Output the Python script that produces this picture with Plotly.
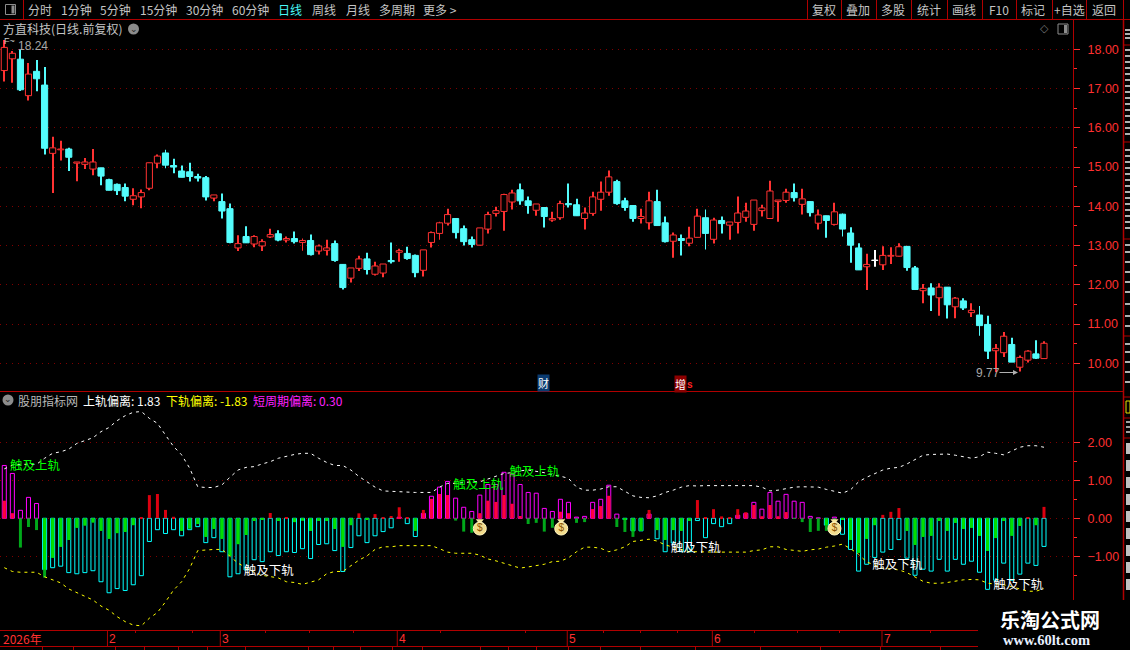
import plotly.graph_objects as go

W, H = 1130, 650
CJK = "Noto Sans CJK SC"
NUM = "Liberation Sans"

# ---------- candles ----------
opens = [17.46,17.76,17.75,16.82,17.44,17.09,15.35,15.44,15.46,15.10,15.07,14.95,14.98,14.68,14.56,14.48,14.18,14.24,14.46,15.10,
 15.36,15.04,14.90,14.88,14.76,14.73,14.21,14.12,13.94,12.94,13.23,13.04,12.99,13.22,13.30,13.14,13.18,13.08,13.13,12.86,
 12.88,13.05,12.52,12.17,12.42,12.66,12.27,12.30,12.62,12.83,12.80,12.75,12.37,13.08,13.31,13.57,13.69,13.43,13.15,13.01,
 13.42,13.82,13.87,14.11,14.42,14.14,13.90,13.97,13.65,13.71,14.07,14.04,13.69,13.82,14.18,14.36,14.63,14.14,14.02,13.69,
 13.58,14.12,13.58,13.11,13.18,13.06,13.21,13.71,13.16,13.64,13.52,13.59,13.72,13.54,13.89,13.69,14.12,14.15,14.35,14.05,
 14.12,13.57,13.76,13.54,13.80,13.32,12.94,12.46,12.63,12.51,12.73,12.73,12.98,12.43,11.85,11.92,11.67,11.94,11.44,11.59,
 11.29,11.23,10.99,10.32,10.27,10.48,9.90,10.08,10.24,10.12]
closes = [18.05,17.90,16.97,17.37,17.25,15.48,15.49,15.46,15.25,15.13,15.13,15.13,14.77,14.41,14.40,14.26,14.27,14.35,15.11,15.28,
 15.05,15.00,14.74,14.76,14.72,14.24,14.29,13.88,13.08,13.05,13.07,13.23,13.10,13.28,13.14,13.18,13.10,13.13,12.77,12.99,
 12.94,12.62,11.93,12.43,12.66,12.39,12.48,12.53,12.59,12.87,12.67,12.31,12.89,13.33,13.58,13.79,13.33,13.10,13.03,13.45,
 13.79,13.89,14.30,14.34,14.14,14.02,14.06,13.74,13.69,14.07,14.04,13.76,13.83,14.24,14.36,14.75,14.07,13.97,13.69,13.74,
 14.14,13.51,13.10,13.27,13.13,13.19,13.75,13.31,13.65,13.56,13.60,13.83,13.88,14.16,13.96,14.39,14.16,14.36,14.22,14.19,
 13.84,13.78,13.64,13.86,13.42,13.01,12.38,12.52,12.62,12.75,12.75,12.97,12.44,11.88,11.91,11.74,11.94,11.49,11.66,11.41,
 11.35,10.96,10.31,10.38,10.69,10.03,10.15,10.31,10.13,10.51]
highs = [18.24,17.96,18.00,17.65,17.73,17.55,15.77,15.67,15.49,15.13,15.23,15.46,14.98,14.70,14.58,14.58,14.46,14.43,15.11,15.32,
 15.44,15.21,15.04,15.11,14.83,14.77,14.29,14.33,14.07,13.26,13.49,13.26,13.16,13.43,13.39,13.23,13.36,13.18,13.28,13.03,
 13.15,13.13,12.52,12.43,12.74,12.82,12.59,12.53,13.08,12.92,12.97,12.77,12.89,13.36,13.61,13.94,13.69,13.51,13.23,13.45,
 13.86,13.99,14.32,14.42,14.58,14.25,14.06,13.97,13.86,14.14,14.58,14.19,13.97,14.37,14.63,14.91,14.68,14.22,14.02,13.94,
 14.37,14.42,13.74,13.33,13.28,13.48,13.94,13.92,13.71,13.74,13.60,14.25,14.09,14.16,14.04,14.65,14.16,14.45,14.58,14.45,
 14.12,13.92,13.76,14.09,13.82,13.47,13.06,12.79,12.89,12.98,12.96,13.06,12.98,12.48,12.02,12.04,12.04,11.94,11.69,11.66,
 11.53,11.46,11.21,10.49,10.80,10.65,10.20,10.33,10.59,10.56]
lows = [17.18,17.15,16.94,16.70,16.93,15.32,14.34,15.17,14.90,14.64,14.95,14.79,14.54,14.41,14.29,14.13,14.03,13.95,14.41,14.97,
 14.97,14.84,14.74,14.63,14.63,14.15,14.13,13.69,13.06,12.86,13.07,12.96,12.86,13.19,13.11,13.08,13.05,12.87,12.75,12.77,
 12.75,12.59,11.88,12.06,12.35,12.26,12.24,12.19,12.54,12.59,12.64,12.19,12.21,12.95,13.15,13.51,13.18,13.00,12.95,13.01,
 13.31,13.74,13.38,13.92,14.04,13.81,13.76,13.46,13.61,13.66,13.97,13.76,13.41,13.76,13.89,14.27,14.04,13.89,13.61,13.56,
 13.41,13.51,13.08,12.69,12.75,12.98,13.21,12.90,13.05,13.31,13.15,13.31,13.61,13.38,13.74,13.69,13.61,14.09,14.12,13.79,
 13.74,13.41,13.20,13.51,13.23,12.56,12.38,11.87,12.46,12.38,12.53,12.72,12.36,11.88,11.53,11.33,11.21,11.14,11.15,11.36,
 11.18,10.70,10.11,9.77,10.16,10.03,9.79,10.02,10.11,10.12]
white_candles = [108]

# ---------- indicator ----------
deviation = [1.39,1.18,0.21,0.55,0.39,-1.35,-1.30,-1.26,-1.43,-1.46,-1.43,-1.38,-1.67,-1.96,-1.85,-1.90,-1.75,-1.51,-0.61,-0.30,
 -0.40,-0.30,-0.46,-0.30,-0.22,-0.64,-0.51,-0.88,-1.54,-1.46,-1.36,-1.09,-1.14,-0.88,-0.98,-0.88,-0.90,-0.80,-1.06,-0.69,
 -0.67,-0.85,-1.40,-0.77,-0.46,-0.64,-0.46,-0.35,-0.25,0.03,-0.14,-0.48,0.13,0.58,0.82,0.97,0.53,0.29,0.18,0.61,
 0.89,0.89,1.21,1.16,0.89,0.68,0.66,0.26,0.18,0.50,0.42,0.03,0.05,0.42,0.50,0.87,0.11,-0.03,-0.33,-0.33,
 0.11,-0.54,-0.88,-0.65,-0.88,-0.88,-0.06,-0.51,-0.14,-0.22,-0.14,0.08,0.13,0.42,0.24,0.68,0.45,0.63,0.45,0.42,
 0.05,0.01,-0.18,0.03,-0.42,-0.82,-1.39,-1.21,-1.03,-0.89,-0.82,-0.56,-1.05,-1.50,-1.34,-1.39,-1.08,-1.39,-1.08,-1.21,
 -1.13,-1.42,-1.87,-1.63,-1.18,-1.63,-1.47,-1.18,-1.24,-0.74]
short_term = [0.46,0.13,-0.77,-0.23,-0.31,-1.56,-1.04,-0.75,-0.57,-0.25,-0.19,-0.11,-0.33,-0.54,-0.39,-0.36,-0.18,0.01,0.61,0.64,
 0.22,0.04,-0.33,-0.27,-0.15,-0.49,-0.28,-0.54,-0.99,-0.68,-0.44,-0.07,-0.04,0.14,-0.07,0.01,-0.10,-0.06,-0.33,-0.07,
 -0.07,-0.28,-0.75,-0.18,0.13,-0.04,0.11,0.03,0.06,0.29,0.03,-0.33,0.22,0.51,0.64,0.61,-0.06,-0.35,-0.38,0.13,
 0.46,0.43,0.61,0.38,0.06,-0.15,-0.12,-0.35,-0.25,0.17,0.13,-0.12,-0.10,0.24,0.32,0.59,-0.23,-0.36,-0.49,-0.33,
 0.22,-0.31,-0.57,-0.31,-0.33,-0.07,0.48,0.01,0.24,0.05,0.03,0.24,0.16,0.35,0.05,0.35,0.05,0.16,-0.01,-0.10,
 -0.36,-0.33,-0.33,-0.10,-0.03,-0.57,-0.91,-0.54,-0.18,0.09,0.17,0.27,-0.33,-0.70,-0.49,-0.46,-0.07,-0.33,-0.12,-0.28,
 -0.25,-0.46,-0.86,-0.52,-0.07,-0.46,-0.20,0.01,-0.18,0.30]
upper_band = [1.30,1.40,1.42,1.42,1.42,1.58,1.71,1.75,1.82,1.97,2.04,2.12,2.28,2.39,2.57,2.70,2.79,2.81,2.63,2.50,
 2.19,1.89,1.67,1.32,0.83,0.81,0.81,0.88,1.08,1.27,1.34,1.36,1.43,1.49,1.58,1.64,1.68,1.71,1.71,1.58,
 1.47,1.39,1.39,1.27,1.10,0.96,0.82,0.72,0.71,0.69,0.68,0.68,0.68,0.68,0.82,0.92,0.92,0.94,0.96,0.96,
 1.04,1.10,1.18,1.20,1.25,1.27,1.24,1.20,1.14,1.11,1.05,0.82,0.74,0.74,0.77,0.83,0.83,0.72,0.59,0.55,
 0.54,0.59,0.68,0.74,0.82,0.86,0.85,0.86,0.86,0.86,0.86,0.86,0.86,0.86,0.82,0.72,0.74,0.79,0.82,0.83,
 0.82,0.82,0.76,0.72,0.66,0.75,0.96,1.08,1.18,1.27,1.32,1.34,1.43,1.55,1.66,1.68,1.69,1.69,1.66,1.62,
 1.58,1.62,1.74,1.71,1.67,1.77,1.87,1.91,1.91,1.87]
lower_band = [-1.30,-1.40,-1.42,-1.42,-1.42,-1.54,-1.61,-1.70,-1.86,-1.96,-2.07,-2.15,-2.31,-2.42,-2.59,-2.72,-2.81,-2.83,-2.63,-2.48,
 -2.20,-1.89,-1.67,-1.32,-0.85,-0.83,-0.82,-0.82,-0.99,-1.18,-1.30,-1.42,-1.50,-1.54,-1.57,-1.67,-1.69,-1.74,-1.69,-1.62,
 -1.46,-1.40,-1.40,-1.25,-1.10,-0.99,-0.82,-0.75,-0.75,-0.72,-0.72,-0.72,-0.72,-0.72,-0.80,-0.89,-0.92,-0.92,-0.92,-0.97,
 -1.07,-1.12,-1.18,-1.25,-1.31,-1.28,-1.25,-1.21,-1.14,-1.13,-1.04,-0.88,-0.76,-0.76,-0.79,-0.88,-0.83,-0.75,-0.61,-0.57,
 -0.55,-0.60,-0.70,-0.76,-0.83,-0.88,-0.88,-0.89,-0.89,-0.89,-0.89,-0.89,-0.89,-0.85,-0.83,-0.75,-0.75,-0.82,-0.85,-0.87,
 -0.83,-0.81,-0.76,-0.73,-0.68,-0.80,-0.95,-1.15,-1.23,-1.32,-1.33,-1.36,-1.43,-1.55,-1.66,-1.71,-1.71,-1.69,-1.66,-1.62,
 -1.61,-1.62,-1.71,-1.73,-1.75,-1.80,-1.87,-1.92,-1.92,-1.85]

touch_up_x, touch_up_y = [3.8, 58.8, 65.8], [1.34, 0.84, 1.185]
touch_dn_x, touch_dn_y = [32.8, 85.8, 110.8, 125.8], [-1.42, -0.815, -1.26, -1.79]
bag_x, bag_y = [59, 69.1, 103], [-0.27, -0.27, -0.27]

month_x = [12.8, 26.8, 48.76, 69.85, 87.85, 108.9]
month_labels = ["2", "3", "4", "5", "6", "7"]

price_ticks = [10, 11, 12, 13, 14, 15, 16, 17, 18]
price_minor = [10.5, 11.5, 12.5, 13.5, 14.5, 15.5, 16.5, 17.5]
ind_ticks = [-1, 0, 1, 2]
ind_minor = [-1.5, -0.5, 0.5, 1.5]

toolbar_left = [("分时",39.5),("1分钟",76.5),("5分钟",115.5),("15分钟",158),("30分钟",204),("60分钟",250),("日线",290),("周线",323.5),("月线",357.5),("多周期",396.5),("更多 >",440)]
toolbar_right = [("复权",824),("叠加",858),("多股",893),("统计",929),("画线",964),("F10",999),("标记",1033),("+自选",1069),("返回",1104)]
toolbar_seps = [807, 841, 876, 911, 947, 982, 1016, 1052, 1086, 1123]

RED_LINE = "#b00000"
GRID = "#800000"
TICK = "#ff3030"
CYAN = "#54FCFC"

x = list(range(len(opens)))
is_up = [c >= o for o, c in zip(opens, closes)]
wick_col = ["#ffffff" if i in white_candles else ("#ff3232" if is_up[i] else CYAN) for i in x]
fill_col = ["#ffffff" if i in white_candles else ("#000000" if is_up[i] else CYAN) for i in x]

fig = go.Figure()
fig.add_trace(go.Bar(x=x, y=[h - l for h, l in zip(highs, lows)], base=lows, width=0.12,
                     marker=dict(color=wick_col, line=dict(width=0)), xaxis="x", yaxis="y", hoverinfo="skip"))
fig.add_trace(go.Bar(x=x, y=[abs(c - o) for o, c in zip(opens, closes)], base=[min(o, c) for o, c in zip(opens, closes)],
                     width=0.76, marker=dict(color=fill_col, line=dict(width=1, color=wick_col)),
                     xaxis="x", yaxis="y", hoverinfo="skip"))

outline_col = ["#FF00FF" if d > 0 else "#00FFFF" for d in deviation]
fig.add_trace(go.Bar(x=x, y=deviation, width=0.5,
                     marker=dict(color="rgba(0,0,0,0)", line=dict(width=1, color=outline_col)),
                     xaxis="x2", yaxis="y2", hoverinfo="skip"))
fig.add_trace(go.Bar(x=x, y=short_term, width=0.37,
                     marker=dict(color=["#DC0010" if s > 0 else "#00A81A" for s in short_term], line=dict(width=0)),
                     xaxis="x2", yaxis="y2", hoverinfo="skip"))
overlap = [(s if abs(s) < abs(d) else d) if s * d > 0 else 0 for s, d in zip(short_term, deviation)]
fig.add_trace(go.Bar(x=x, y=overlap, width=0.37,
                     marker=dict(color=["#FF0040" if v > 0 else "#00E000" for v in overlap], line=dict(width=0)),
                     xaxis="x2", yaxis="y2", hoverinfo="skip"))

fig.add_trace(go.Scatter(x=x, y=upper_band, mode="lines", line=dict(color="#ffffff", width=1, dash="3px,4px"),
                         xaxis="x2", yaxis="y2", hoverinfo="skip"))
fig.add_trace(go.Scatter(x=x, y=lower_band, mode="lines", line=dict(color="#ffff00", width=1, dash="3px,4px"),
                         xaxis="x2", yaxis="y2", hoverinfo="skip"))
fig.add_trace(go.Scatter(x=touch_up_x, y=touch_up_y, mode="text", text=["触及上轨"] * 3,
                         textfont=dict(family=CJK, size=12.5, color="#00ff00"), xaxis="x2", yaxis="y2", hoverinfo="skip"))
fig.add_trace(go.Scatter(x=touch_dn_x, y=touch_dn_y, mode="text", text=["触及下轨"] * 4,
                         textfont=dict(family=CJK, size=12.5, color="#ffffff"), xaxis="x2", yaxis="y2", hoverinfo="skip"))
fig.add_trace(go.Scatter(x=bag_x, y=[v + 0.2 for v in bag_y], mode="markers",
                         marker=dict(symbol="triangle-down", size=7, color="#f5e6a0"), xaxis="x2", yaxis="y2", hoverinfo="skip"))
fig.add_trace(go.Scatter(x=bag_x, y=bag_y, mode="markers+text", text=["$"] * 3, textposition="middle center",
                         textfont=dict(family=NUM, size=10, color="#8a5200"),
                         marker=dict(symbol="circle", size=13, color="#f4dc8c", line=dict(width=1, color="#fff6c0")),
                         xaxis="x2", yaxis="y2", hoverinfo="skip"))

def py(p):
    return 1 - p / H

ann = []
def lab(px, ypx, text, color="#c4c4c4", size=12, anchor="left", family=CJK, **kw):
    ann.append(dict(x=px / W, y=py(ypx), xref="paper", yref="paper", text=text, showarrow=False,
                    xanchor=anchor, yanchor="middle", font=dict(family=family, size=size, color=color), **kw))

for t, c in toolbar_left:
    lab(c, 9.5, t, "#48f8f8" if t == "日线" else "#c4c4c4", anchor="center")
for t, c in toolbar_right:
    lab(c, 9.5, t, anchor="center")

lab(1, 29, "方直科技(日线.前复权)", size=12)
lab(16, 400, "股朋指标网", "#b8b8b8", 12)
lab(81, 400, "上轨偏离: 1.83", "#ffffff", 12)
lab(164, 400, "下轨偏离: -1.83", "#ffff00", 12)
lab(251, 400, "短周期偏离: 0.30", "#ff20ff", 12)

lab(16, 45.5, "18.24", "#a8a8a8", 12, family=NUM)
lab(2, 41, "F~", "#c8c8c8", 9, family=NUM)
lab(974, 373, "9.77", "#a8a8a8", 12, family=NUM)
ann.append(dict(x=1018 / W, y=py(372.5), xref="paper", yref="paper", ax=-20, ay=0, axref="pixel", ayref="pixel",
                text="", showarrow=True, arrowhead=2, arrowsize=1, arrowwidth=1, arrowcolor="#b0b0b0"))

lab(1044, 29, "◇", "#777777", 11, anchor="center", family="DejaVu Sans")
lab(543, 383, "财", "#ffffff", 11, anchor="center", bgcolor="#0a3a70", borderpad=0)
lab(680, 383.5, "增", "#ffffff", 11, anchor="center", bgcolor="#8c0000", borderpad=0)
lab(685, 384, "<b>s</b>", "#ff2020", 10, family=NUM)

lab(1, 638.5, "2026年", "#ff3030", 12)
for mx, ml in zip(month_x, month_labels):
    ann.append(dict(x=mx, y=py(638.5), xref="x", yref="paper", text=ml, showarrow=False, xanchor="left", xshift=0,
                    yanchor="middle", font=dict(family=NUM, size=12, color="#ff3030")))

lab(1050, 619, "<b>乐淘公式网</b>", "#ffffff", 20, anchor="center", family="Noto Sans CJK SC")
lab(1046, 640, "<b>www.60lt.com</b>", "#e8f0ff", 14.5, anchor="center", family="Liberation Serif")

shapes = []
def hline(y, x0=0, x1=W, c=RED_LINE, w=1):
    shapes.append(dict(type="line", xref="paper", yref="paper", x0=x0 / W, x1=x1 / W, y0=py(y), y1=py(y), line=dict(color=c, width=w)))
def vline(x0, y0, y1, c=RED_LINE, w=1):
    shapes.append(dict(type="line", xref="paper", yref="paper", x0=x0 / W, x1=x0 / W, y0=py(y0), y1=py(y1), line=dict(color=c, width=w)))

hline(19.5)
vline(23.5, 0, 19.5)
for s in toolbar_seps:
    vline(s + 0.5, 0, 19.5)
hline(391.5, 0, 1123)
vline(1073.5, 19.5, 600)
vline(1123.5, 19.5, 600, w=1.5)
for yy in [45, 142, 239, 336, 397, 418, 438]:
    hline(yy, 1123, W)
hline(630.5, 0, 978)
hline(646.5, 0, 978)
for tx in [135, 192, 265, 309, 353, 440, 525, 603, 640, 677, 754, 797, 839, 930]:
    vline(tx + 0.5, 630, 633)
for tx in [42, 73, 115, 144, 178, 207, 245, 308, 333, 360, 392, 422, 480, 508, 536, 568, 600, 640, 695, 760, 820, 880, 940]:
    vline(tx + 0.5, 646, 650)
for mx in month_x:
    shapes.append(dict(type="line", xref="x", yref="paper", x0=mx, x1=mx, y0=py(630), y1=py(646), line=dict(color=RED_LINE, width=1)))

# sidebar: the reference's far-right column is cut by the window, only slivers of glyphs show
for yy in [30, 34, 38, 50, 56, 62, 68, 74, 80, 86, 92, 98, 104, 110, 116, 122, 128, 134,
           150, 156, 162, 168, 174, 180, 186, 192, 198, 204, 210, 216, 222, 228,
           245, 252, 262, 272, 282, 292, 304, 316, 326,
           344, 352, 362, 372, 382]:
    shapes.append(dict(type="rect", xref="paper", yref="paper", x0=1125 / W, x1=1, y0=py(yy + 1), y1=py(yy - 1),
                       fillcolor="#b0b0b0", line=dict(width=0), layer="above"))
shapes.append(dict(type="rect", xref="paper", yref="paper", x0=1126 / W, x1=1, y0=py(413), y1=py(401),
                   fillcolor="rgba(0,0,0,0)", line=dict(width=1, color="#e8e000")))
for yy in [422, 427, 432]:
    shapes.append(dict(type="rect", xref="paper", yref="paper", x0=1126 / W, x1=1, y0=py(yy + 1), y1=py(yy - 1),
                       fillcolor="#a0a0a0", line=dict(width=0)))
for yy in [449, 466, 483, 500, 517, 534, 551, 568, 585]:
    shapes.append(dict(type="rect", xref="paper", yref="paper", x0=1126 / W, x1=1, y0=py(yy - 6), y1=py(yy + 5),
                       fillcolor="#c0c0c0", line=dict(width=0), layer="above"))

def dot(cx, cy, r, fill):
    shapes.append(dict(type="circle", xref="paper", yref="paper", x0=(cx - r) / W, x1=(cx + r) / W,
                       y0=py(cy + r), y1=py(cy - r), fillcolor=fill, line=dict(width=0)))
dot(133.5, 29, 5.5, "#8c8c8c")
dot(8, 400, 5.5, "#8c8c8c")
lab(133.5, 28.5, "⌄", "#222222", 9, anchor="center", family="DejaVu Sans")
lab(8, 399.5, "⌄", "#222222", 9, anchor="center", family="DejaVu Sans")
for ix, iy in [(10.5, 9.5), (1063, 29)]:
    shapes.append(dict(type="rect", xref="paper", yref="paper", x0=(ix - 5) / W, x1=(ix + 5) / W, y0=py(iy + 5), y1=py(iy - 5),
                       fillcolor="rgba(0,0,0,0)", line=dict(width=1, color="#8c8c8c")))
    shapes.append(dict(type="rect", xref="paper", yref="paper", x0=(ix + 1) / W, x1=(ix + 4) / W, y0=py(iy + 4), y1=py(iy - 4),
                       fillcolor="#8c8c8c", line=dict(width=0)))

x_range = [-0.5335, 132.6]
fig.update_layout(
    width=W, height=H, margin=dict(l=0, r=0, t=0, b=0), paper_bgcolor="#000000", plot_bgcolor="#000000",
    showlegend=False, barmode="overlay", hovermode=False, annotations=ann, shapes=shapes,
    xaxis=dict(domain=[0, 1073 / W], range=x_range, visible=False, anchor="y"),
    xaxis2=dict(domain=[0, 1073 / W], range=x_range, visible=False, anchor="y2"),
    yaxis=dict(domain=[py(391), py(19.5)], range=[9.294, 18.761], side="right", anchor="x",
               tickmode="array", tickvals=price_ticks, tickformat=".2f", ticks="outside", ticklen=6, tickcolor=TICK,
               ticklabelstandoff=5, tickfont=dict(family=NUM, size=12.5, color=TICK),
               showgrid=True, gridcolor=GRID, griddash="1px,5px", gridwidth=1, zeroline=False, showline=False,
               minor=dict(tickmode="array", tickvals=price_minor, ticks="outside", ticklen=3, tickcolor=TICK, showgrid=False)),
    yaxis2=dict(domain=[py(630), py(391)], range=[-2.94, 3.35], side="right", anchor="x2",
                tickmode="array", tickvals=ind_ticks, tickformat=".2f", ticks="outside", ticklen=6, tickcolor=TICK,
                ticklabelstandoff=5, tickfont=dict(family=NUM, size=12.5, color=TICK),
                showgrid=True, gridcolor=GRID, griddash="1px,5px", gridwidth=1, zeroline=False, showline=False,
                minor=dict(tickmode="array", tickvals=ind_minor, ticks="outside", ticklen=3, tickcolor=TICK, showgrid=False)),
)

fig.write_html("out.html", config=dict(displayModeBar=False),
               post_script="document.body.style.margin='0';document.body.style.background='#000';document.body.style.overflow='hidden';")
